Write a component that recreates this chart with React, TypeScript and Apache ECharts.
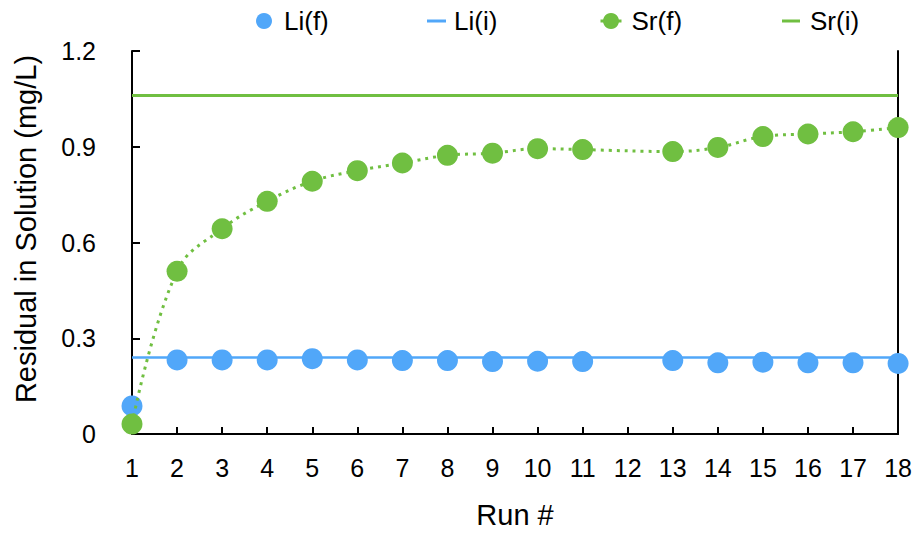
import React, { useEffect, useRef } from "react";
import * as echarts from "echarts";

const runs = ["1", "2", "3", "4", "5", "6", "7", "8", "9", "10", "11", "12", "13", "14", "15", "16", "17", "18"];
const liFinal = [0.088, 0.232, 0.232, 0.232, 0.236, 0.232, 0.23, 0.23, 0.227, 0.228, 0.227, null, 0.23, 0.223, 0.225, 0.223, 0.223, 0.221];
const srFinal = [0.031, 0.51, 0.643, 0.729, 0.792, 0.825, 0.849, 0.873, 0.88, 0.894, 0.891, null, 0.885, 0.898, 0.932, 0.94, 0.947, 0.96];
const liInitial = 0.237;
const srInitial = 1.057;
const yMin = 0;
const yMax = 1.2;
const yStep = 0.3;

const BLUE = "#51A7F9";
const GREEN = "#70BF41";
const FONT = "'Liberation Sans', Arial, Helvetica, sans-serif";

export default function App() {
  const ref = useRef<HTMLDivElement>(null);
  useEffect(() => {
    if (!ref.current) return;
    const chart = echarts.init(ref.current, null, { renderer: "svg" });
    const legendText = { color: "#000", fontSize: 26, fontFamily: FONT };
    chart.setOption({
      animation: false,
      backgroundColor: "#fff",
      textStyle: { fontFamily: FONT },
      grid: { left: 132, right: 15, top: 51, bottom: 99, containLabel: false },
      legend: [
        {
          data: ["Li(f)"], left: 251, top: 3, itemWidth: 16, itemHeight: 16,
          textStyle: { ...legendText, padding: [0, 0, 0, 7] }, selectedMode: false,
        },
        {
          data: [{ name: "Li(i)", icon: "rect" }], left: 422, top: 3, itemWidth: 19, itemHeight: 3,
          itemStyle: { color: BLUE },
          textStyle: { ...legendText, padding: [0, 0, 0, 3] }, selectedMode: false,
        },
        {
          data: ["Sr(f)"], left: 594, top: 3, itemWidth: 21, itemHeight: 20,
          lineStyle: { type: "solid", width: 3 },
          textStyle: { ...legendText, padding: [0, 0, 0, 5] }, selectedMode: false,
        },
        {
          data: [{ name: "Sr(i)", icon: "rect" }], left: 777, top: 3, itemWidth: 18, itemHeight: 3,
          itemStyle: { color: GREEN },
          textStyle: { ...legendText, padding: [0, 0, 0, 5] }, selectedMode: false,
        },
      ],
      xAxis: {
        type: "category",
        data: runs,
        boundaryGap: false,
        name: "Run #",
        nameLocation: "middle",
        nameGap: 66,
        nameTextStyle: { color: "#000", fontSize: 29, fontFamily: FONT },
        axisLine: { show: true, lineStyle: { color: "#000", width: 2 } },
        axisTick: { show: true, inside: true, length: 7, lineStyle: { color: "#000", width: 2 } },
        axisLabel: { interval: 0, color: "#000", fontSize: 25, margin: 21, fontFamily: FONT },
        splitLine: { show: false },
      },
      yAxis: [
        {
          type: "value",
          min: yMin,
          max: yMax,
          interval: yStep,
          axisLine: { show: true, lineStyle: { color: "#000", width: 2 } },
          axisTick: { show: true, inside: true, length: 8, lineStyle: { color: "#000", width: 2 } },
          axisLabel: { color: "#000", fontSize: 25, margin: 36, fontFamily: FONT },
          splitLine: { show: false },
        },
        {
          type: "value",
          position: "right",
          min: yMin,
          max: yMax,
          interval: yStep,
          axisLine: { show: true, lineStyle: { color: "#000", width: 2 } },
          axisTick: { show: false },
          axisLabel: { show: false },
          splitLine: { show: false },
        },
      ],
      graphic: [
        {
          type: "text",
          x: 26,
          y: 229,
          rotation: Math.PI / 2,
          style: {
            text: "Residual in Solution (mg/L)",
            fill: "#000",
            fontSize: 29,
            fontFamily: FONT,
            align: "center",
            verticalAlign: "middle",
          },
        },
      ],
      series: [
        {
          name: "Li(i)",
          type: "line",
          data: [],
          symbol: "none",
          color: BLUE,
          lineStyle: { color: BLUE, width: 2.5 },
          markLine: {
            silent: true,
            symbol: ["none", "none"],
            label: { show: false },
            lineStyle: { color: BLUE, width: 2.5, type: "solid" },
            data: [{ yAxis: liInitial }],
            z: 1,
          },
          z: 1,
        },
        {
          name: "Sr(i)",
          type: "line",
          data: [],
          symbol: "none",
          color: GREEN,
          lineStyle: { color: GREEN, width: 3 },
          markLine: {
            silent: true,
            symbol: ["none", "none"],
            label: { show: false },
            lineStyle: { color: GREEN, width: 3, type: "solid" },
            data: [{ yAxis: srInitial }],
            z: 1,
          },
          z: 1,
        },
        {
          name: "Li(f)",
          type: "scatter",
          data: liFinal,
          symbol: "circle",
          symbolSize: 21,
          itemStyle: { color: BLUE, opacity: 1 },
          z: 3,
        },
        {
          name: "Sr(f)",
          type: "line",
          data: srFinal,
          smooth: 0.4,
          connectNulls: true,
          symbol: "circle",
          symbolSize: 21,
          showSymbol: true,
          color: GREEN,
          itemStyle: { color: GREEN, opacity: 1 },
          lineStyle: { color: GREEN, width: 3, type: [3, 5] },
          z: 4,
        },
      ],
    });
    return () => chart.dispose();
  }, []);
  return (
    <div
      ref={ref}
      style={{ position: "fixed", left: 0, top: 0, width: 915, height: 534, background: "#fff" }}
    />
  );
}
